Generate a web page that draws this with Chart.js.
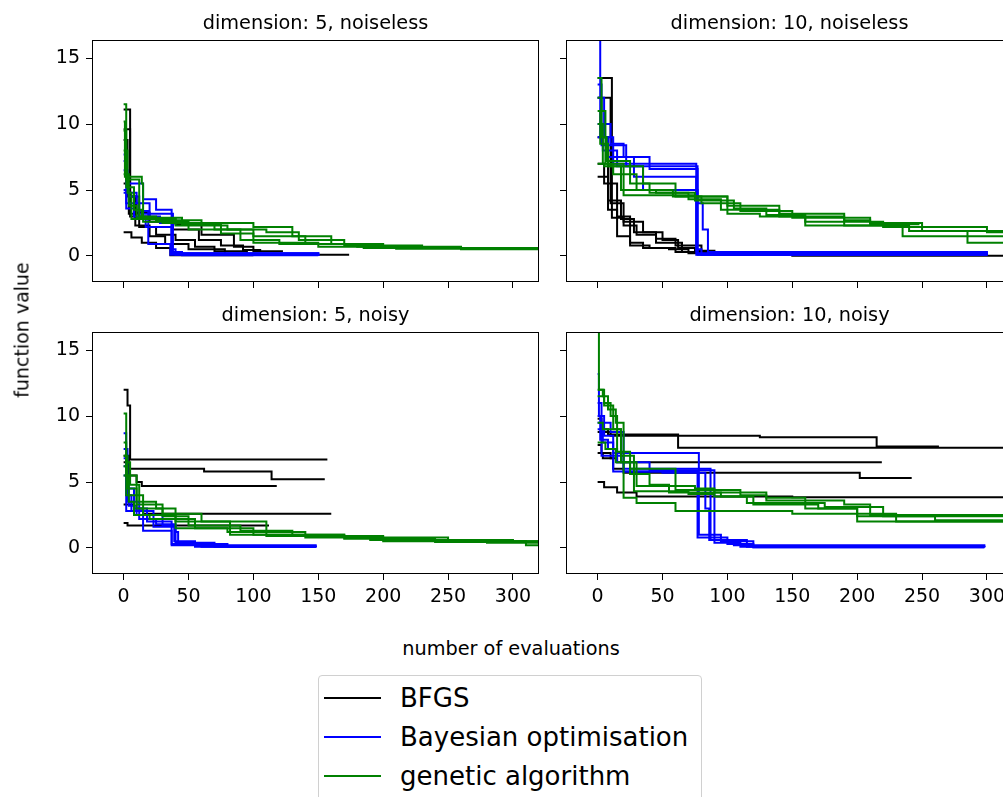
<!DOCTYPE html>
<html><head><meta charset="utf-8">
<script src="https://cdn.jsdelivr.net/npm/chart.js@4.4.1/dist/chart.umd.min.js"></script>
<style>
html,body{margin:0;padding:0;width:1003px;height:797px;overflow:hidden;background:#fff;font-family:"DejaVu Sans",sans-serif;color:#000;}
canvas.panel{position:absolute;}
#ylab{position:absolute;left:22px;top:330px;transform:translate(-50%,-50%) rotate(-90deg);font-size:19px;line-height:19px;white-space:nowrap;}
#xlab{position:absolute;left:511px;top:639px;transform:translateX(-50%);font-size:19.3px;line-height:19px;white-space:nowrap;}
#legend{position:absolute;left:318px;top:675px;width:384px;height:140px;border:1px solid #d0d0d0;border-radius:4px;background:#fff;box-sizing:border-box;}
.sw{position:absolute;left:5px;width:57px;height:2px;}
.lt{position:absolute;left:81px;font-size:26px;line-height:26px;white-space:nowrap;}
</style></head>
<body>
<canvas id="p0" class="panel"></canvas>
<canvas id="p1" class="panel"></canvas>
<canvas id="p2" class="panel"></canvas>
<canvas id="p3" class="panel"></canvas>
<div id="ylab">function value</div>
<div id="xlab">number of evaluations</div>
<div id="legend"></div>
<script>
// ---- labels / ticks ----
const algorithms = ['BFGS', 'Bayesian optimisation', 'genetic algorithm'];
const algoColors = ['#000000', '#0000ff', '#008000'];
const panelTitles = ['dimension: 5, noiseless', 'dimension: 10, noiseless', 'dimension: 5, noisy', 'dimension: 10, noisy'];
const xTickValues = [0, 50, 100, 150, 200, 250, 300];
const yTickValues = [0, 5, 10, 15];
const xRange = [-23.6, 319.3];
const yRange = [-1.9, 16.3];

// ---- runs: [evaluation, best function value] (value holds from that evaluation on) ----
const d5NoiselessBFGS = [
  [[0,1.8],[6,1.4],[14,1.0],[25,0.6],[36,0.05],[100,0.05]],
  [[0,11.1],[5,3.0],[18,2.8],[40,2.4],[60,1.6],[85,0.7],[100,0.35],[122,0.3]],
  [[0,9.6],[5,4.5],[10,3.3],[20,2.6],[38,2.0],[58,1.2],[75,0.8],[92,0.45],[106,0.45]],
  [[0,8.8],[3,4.5],[9,2.3],[20,1.5],[32,0.9],[50,0.5],[78,0.1],[173,0.02]],
  [[0,5.5],[4,3.2],[12,2.2],[25,1.6],[40,1.2],[55,0.7],[70,0.35],[95,0.1],[110,0.1]]
];
const d5NoiselessBO = [
  [[0,7.7],[2,5.5],[15,4.3],[25,3.5],[37,0.3],[45,0.05],[150,0.02]],
  [[0,6.5],[3,4.8],[10,4.0],[20,3.0],[28,2.5],[37,0.5],[40,0.1],[150,0.02]],
  [[0,5.0],[2,3.6],[8,3.0],[17,2.2],[37,0.2],[150,0.02]],
  [[0,4.8],[4,4.5],[12,3.4],[19,0.9],[36,0.1],[150,0.02]],
  [[0,7.2],[2,4.0],[12,3.2],[38,0.2],[150,0.02]]
];
const d5NoiselessGA = [
  [[0,11.5],[2,5.8],[12,3.0],[25,2.7],[60,2.5],[100,2.2],[130,1.5],[160,0.9],[200,0.6],[320,0.5]],
  [[0,9.5],[2,5.2],[8,3.5],[14,2.8],[40,2.3],[80,2.0],[110,1.8],[135,1.2],[170,0.8],[230,0.6],[320,0.55]],
  [[0,8.0],[3,4.8],[6,2.8],[30,2.5],[70,2.0],[100,1.5],[140,0.9],[185,0.6],[320,0.45]],
  [[0,10.2],[1,6.0],[14,5.5],[15,2.6],[50,2.0],[90,1.2],[120,0.9],[180,0.7],[260,0.5],[320,0.5]],
  [[0,6.2],[4,3.8],[10,2.9],[45,2.4],[75,1.7],[100,1.0],[150,0.7],[210,0.55],[320,0.5]]
];

const d10NoiselessBFGS = [
  [[0,13.5],[11,2.9],[20,2.6],[35,1.8],[50,1.2],[62,0.6],[75,0.4],[90,0.1],[120,0.05]],
  [[0,12.0],[10,4.0],[20,2.3],[30,1.6],[45,1.0],[65,0.3],[100,0.2],[150,0.02],[320,0.02]],
  [[0,6.0],[8,3.5],[15,1.5],[25,0.8],[40,0.6],[60,0.3],[80,0.2],[120,0.1]],
  [[0,9.0],[8,4.2],[18,2.8],[28,1.8],[45,1.3],[60,0.8],[80,0.3],[105,0.1],[118,0.1]],
  [[0,7.0],[5,5.5],[15,3.0],[25,1.0],[35,0.6],[55,0.5],[70,0.2],[110,0.05]]
];
const d10NoiselessBO = [
  [[0,17.0],[2,12.0],[5,9.0],[12,7.0],[76,0.1],[300,0.05]],
  [[0,13.0],[3,10.0],[10,8.5],[20,7.5],[40,6.6],[77,0.1],[300,0.05]],
  [[0,12.0],[2,9.0],[8,7.5],[28,6.0],[76,0.5],[80,0.1],[300,0.05]],
  [[0,9.0],[4,8.0],[15,6.8],[35,5.0],[77,4.0],[81,2.0],[85,0.3],[300,0.05]],
  [[0,10.0],[3,8.4],[22,6.8],[77,0.2],[300,0.05]]
];
const d10NoiselessGA = [
  [[0,13.5],[3,11.0],[6,7.0],[20,6.8],[35,5.5],[60,4.5],[100,3.8],[140,3.2],[190,2.7],[210,2.4],[248,2.4]],
  [[0,11.0],[2,8.5],[8,6.8],[18,5.0],[45,4.8],[75,4.2],[105,3.6],[130,3.1],[160,2.6],[220,2.2],[300,1.8],[320,1.7]],
  [[0,10.0],[4,7.0],[12,6.2],[30,5.0],[58,4.5],[80,4.0],[110,3.4],[150,2.9],[210,2.5],[250,1.9],[320,1.4]],
  [[0,7.0],[5,6.8],[20,4.6],[75,4.5],[100,3.2],[125,3.0],[160,2.3],[235,1.5],[320,1.2]],
  [[0,12.0],[3,9.0],[7,7.2],[25,5.5],[40,4.8],[70,4.3],[95,3.5],[140,3.0],[190,2.3],[240,1.9],[285,1.0],[320,1.0]]
];

const d5NoisyBFGS = [
  [[0,12.0],[3,10.8],[5,6.7],[157,6.7]],
  [[0,6.5],[3,6.0],[62,5.8],[114,5.2],[155,5.2]],
  [[0,7.0],[4,5.5],[10,5.0],[14,4.7],[118,4.7]],
  [[0,3.3],[8,3.0],[15,2.6],[160,2.6]],
  [[0,1.9],[3,1.7],[112,1.7]]
];
const d5NoisyBO = [
  [[0,8.7],[2,4.5],[8,3.0],[18,2.0],[37,0.3],[60,0.1],[148,0.05]],
  [[0,7.5],[3,3.5],[12,2.2],[25,1.8],[40,0.4],[70,0.1],[148,0.05]],
  [[0,6.2],[2,4.0],[6,2.8],[15,1.3],[37,0.2],[148,0.05]],
  [[0,5.5],[4,3.2],[10,2.5],[30,1.7],[40,1.2],[42,0.3],[80,0.1],[148,0.05]],
  [[0,6.8],[2,2.8],[23,1.6],[39,0.5],[55,0.1],[148,0.05]]
];
const d5NoisyGA = [
  [[0,10.2],[2,6.5],[5,4.8],[12,3.5],[25,3.0],[40,2.0],[82,1.0],[170,0.8],[250,0.5],[320,0.3]],
  [[0,7.0],[3,4.5],[10,3.0],[30,2.6],[60,2.0],[110,0.9],[200,0.6],[280,0.4],[320,0.35]],
  [[0,6.2],[2,4.0],[15,2.5],[40,1.5],[80,1.2],[140,0.8],[200,0.5],[310,0.2],[320,0.2]],
  [[0,5.5],[4,3.5],[8,2.5],[20,2.2],[55,1.5],[100,1.0],[170,0.7],[240,0.45],[320,0.4]],
  [[0,8.0],[2,5.5],[10,3.3],[30,2.4],[50,1.7],[90,1.3],[130,0.9],[190,0.6],[300,0.5],[320,0.5]]
];

const d10NoisyBFGS = [
  [[0,9.8],[3,9.0],[8,8.6],[62,7.6],[320,7.6]],
  [[0,8.8],[10,8.5],[125,8.4],[215,7.7],[263,7.7]],
  [[0,7.8],[3,7.2],[10,6.8],[15,6.5],[219,6.5]],
  [[0,7.2],[4,6.8],[12,6.0],[20,5.7],[202,5.3],[242,5.3]],
  [[0,5.0],[5,4.6],[15,4.2],[30,3.9],[150,3.85],[320,3.8]]
];
const d10NoisyBO = [
  [[0,13.2],[1,10.0],[5,8.5],[12,7.2],[78,1.0],[90,0.4],[110,0.1],[298,0.05]],
  [[0,11.0],[3,9.5],[10,8.8],[20,5.8],[77,0.8],[100,0.3],[120,0.05],[298,0.05]],
  [[0,10.0],[2,8.2],[8,7.5],[15,6.5],[40,5.9],[90,1.0],[95,0.5],[120,0.05],[298,0.05]],
  [[0,9.0],[4,8.0],[12,5.8],[50,5.7],[83,3.0],[86,0.6],[115,0.1],[298,0.05]],
  [[0,9.5],[3,7.0],[20,6.0],[87,0.6],[105,0.2],[298,0.05]]
];
const d10NoisyGA = [
  [[0,17.0],[1,12.0],[5,11.0],[10,10.0],[15,9.0],[18,6.5],[25,6.0],[60,4.4],[110,4.0],[130,3.6],[190,3.3],[210,2.5],[320,2.3]],
  [[0,12.0],[4,11.5],[8,10.5],[14,9.5],[20,3.8],[30,3.4],[60,2.8],[150,2.6],[200,2.0],[320,1.5]],
  [[0,11.5],[5,10.8],[12,9.0],[18,7.0],[28,4.3],[70,4.1],[90,3.9],[115,3.4],[175,3.1],[220,2.4],[260,2.1],[320,2.1]],
  [[0,9.5],[4,9.0],[15,7.3],[25,5.6],[40,4.8],[55,4.2],[95,3.9],[120,3.3],[170,3.0],[200,2.4],[320,1.6]],
  [[0,8.0],[6,7.5],[14,6.5],[30,4.7],[75,4.5],[90,4.2],[130,3.8],[160,3.0],[200,2.6],[230,2.0],[320,1.6]]
];

const panelRuns = [
  [d5NoiselessBFGS, d5NoiselessBO, d5NoiselessGA],
  [d10NoiselessBFGS, d10NoiselessBO, d10NoiselessGA],
  [d5NoisyBFGS, d5NoisyBO, d5NoisyGA],
  [d10NoisyBFGS, d10NoisyBO, d10NoisyGA]
];

// ---- layout ----
const FONT = '"DejaVu Sans", sans-serif';
const AXW = 85, PADT = 40, PADR = 12, AXH = 50, PW = 445, PH = 240;
const panelPos = [[93, 41, true, false], [567, 41, false, false], [93, 333, true, true], [567, 333, false, true]];

const framePlugin = {
  id: 'frame',
  afterDatasetsDraw(chart) {
    const { ctx, chartArea: a } = chart;
    ctx.save();
    ctx.strokeStyle = '#000';
    ctx.lineWidth = 1;
    ctx.strokeRect(Math.round(a.left) - 0.5, Math.round(a.top) - 0.5, Math.round(a.right - a.left) + 1, Math.round(a.bottom - a.top) + 1);
    ctx.restore();
  },
  afterDraw(chart, args, opts) {
    const { ctx, chartArea: a } = chart;
    ctx.save();
    ctx.fillStyle = '#000';
    ctx.font = '19.3px ' + FONT;
    ctx.textAlign = 'center';
    ctx.textBaseline = 'alphabetic';
    ctx.fillText(opts.text, (a.left + a.right) / 2, a.top - 12);
    ctx.restore();
  }
};

panelRuns.forEach((runsByAlgo, p) => {
  const [left, top, showY, showX] = panelPos[p];
  const cv = document.getElementById('p' + p);
  const W = AXW + PW + PADR, H = PADT + PH + AXH;
  cv.width = W; cv.height = H;
  cv.style.width = W + 'px'; cv.style.height = H + 'px';
  cv.style.left = (left - AXW) + 'px';
  cv.style.top = (top - PADT) + 'px';

  const datasets = [];
  runsByAlgo.forEach((runs, a) => {
    runs.forEach(run => {
      datasets.push({
        label: algorithms[a],
        data: run.map(([x, y]) => ({ x, y })),
        borderColor: algoColors[a],
        backgroundColor: algoColors[a],
        borderWidth: 2,
        pointRadius: 0,
        stepped: 'before',
        fill: false,
        order: 3 - a
      });
    });
  });

  new Chart(cv, {
    type: 'line',
    data: { datasets },
    plugins: [framePlugin],
    options: {
      responsive: false,
      animation: false,
      events: [],
      devicePixelRatio: 1,
      layout: { padding: { top: PADT, right: PADR, left: 0, bottom: 0 } },
      plugins: { legend: { display: false }, tooltip: { enabled: false }, frame: { text: panelTitles[p] } },
      scales: {
        x: {
          type: 'linear', min: xRange[0], max: xRange[1],
          afterBuildTicks: s => { s.ticks = xTickValues.map(v => ({ value: v })); },
          ticks: { autoSkip: false, maxRotation: 0, padding: 6, color: '#000', font: { family: FONT, size: 19 },
                   callback: v => showX ? String(v) : '' },
          grid: { display: true, drawOnChartArea: false, drawTicks: true, tickLength: 7, color: '#000', lineWidth: 1 },
          border: { display: false },
          afterFit: s => { s.height = AXH; s.paddingLeft = 0; s.paddingRight = 0; }
        },
        y: {
          type: 'linear', min: yRange[0], max: yRange[1],
          afterBuildTicks: s => { s.ticks = yTickValues.map(v => ({ value: v })); },
          ticks: { autoSkip: false, padding: 6, color: '#000', font: { family: FONT, size: 19 },
                   callback: v => showY ? String(v) : '' },
          grid: { display: true, drawOnChartArea: false, drawTicks: true, tickLength: 7, color: '#000', lineWidth: 1 },
          border: { display: false },
          afterFit: s => { s.width = AXW; s.paddingTop = 0; s.paddingBottom = 0; }
        }
      }
    }
  });
});

// ---- figure legend ----
const legend = document.getElementById('legend');
const swatchTops = [21, 60, 99];
const textTops = [9, 48, 87];
algorithms.forEach((name, i) => {
  const sw = document.createElement('div');
  sw.className = 'sw';
  sw.style.top = swatchTops[i] + 'px';
  sw.style.background = algoColors[i];
  legend.appendChild(sw);
  const t = document.createElement('div');
  t.className = 'lt';
  t.style.top = textTops[i] + 'px';
  t.textContent = name;
  legend.appendChild(t);
});
</script>
</body></html>
